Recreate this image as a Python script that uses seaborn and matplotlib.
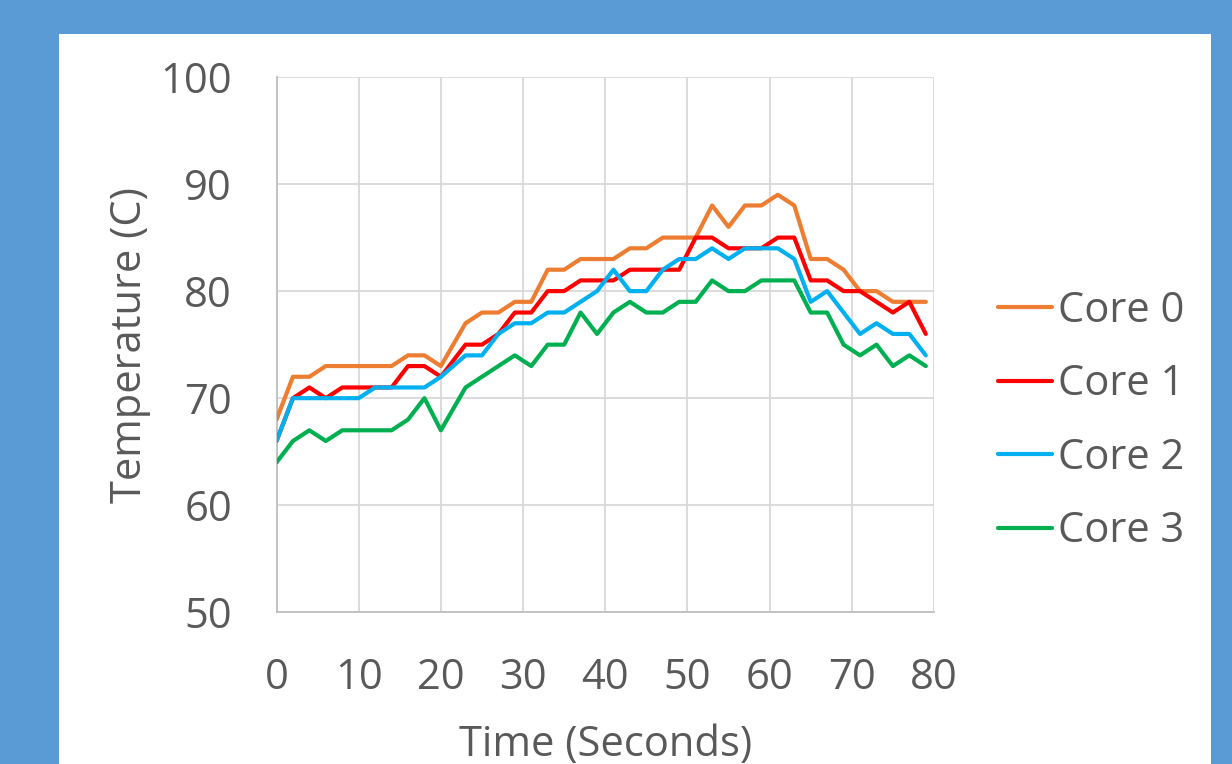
import matplotlib
matplotlib.use("Agg")
import matplotlib.pyplot as plt
import matplotlib.patches as mpatches
import pandas as pd
import seaborn as sns

# Sample times (seconds)
times = [0, 2, 4, 6, 8, 10, 12, 14, 16, 18, 20,
         23, 25, 27, 29, 31, 33, 35, 37, 39, 41, 43, 45, 47, 49,
         51, 53, 55, 57, 59, 61, 63, 65, 67, 69, 71, 73, 75, 77, 79]

core0 = [68, 72, 72, 73, 73, 73, 73, 73, 74, 74, 73,
         77, 78, 78, 79, 79, 82, 82, 83, 83, 83, 84, 84, 85, 85,
         85, 88, 86, 88, 88, 89, 88, 83, 83, 82, 80, 80, 79, 79, 79]
core1 = [66, 70, 71, 70, 71, 71, 71, 71, 73, 73, 72,
         75, 75, 76, 78, 78, 80, 80, 81, 81, 81, 82, 82, 82, 82,
         85, 85, 84, 84, 84, 85, 85, 81, 81, 80, 80, 79, 78, 79, 76]
core2 = [66, 70, 70, 70, 70, 70, 71, 71, 71, 71, 72,
         74, 74, 76, 77, 77, 78, 78, 79, 80, 82, 80, 80, 82, 83,
         83, 84, 83, 84, 84, 84, 83, 79, 80, 78, 76, 77, 76, 76, 74]
core3 = [64, 66, 67, 66, 67, 67, 67, 67, 68, 70, 67,
         71, 72, 73, 74, 73, 75, 75, 78, 76, 78, 79, 78, 78, 79,
         79, 81, 80, 80, 81, 81, 81, 78, 78, 75, 74, 75, 73, 74, 73]

core_names = ["Core 0", "Core 1", "Core 2", "Core 3"]
core_colors = ["#ED7D31", "#FF0000", "#00B0F0", "#00B050"]

x_ticks = [0, 10, 20, 30, 40, 50, 60, 70, 80]
y_ticks = [50, 60, 70, 80, 90, 100]

frames = []
for name, vals in zip(core_names, [core0, core1, core2, core3]):
    frames.append(pd.DataFrame({"Time": times, "Temp": vals, "Core": name}))
df = pd.concat(frames, ignore_index=True)

sns.set_style("white")
plt.rcParams["font.family"] = ["Open Sans", "DejaVu Sans"]

W, H = 1232, 764
fig = plt.figure(figsize=(W / 100, H / 100), dpi=100)
fig.patch.set_facecolor("#5B9BD5")

# white chart area behind the axes
panel = mpatches.Rectangle((59 / W, 0), (1211 - 59) / W, (H - 34) / H,
                           transform=fig.transFigure, facecolor="white",
                           edgecolor="none", zorder=-10)
fig.add_artist(panel)

left, right, top, bottom = 276.5, 934, 77, 612.3
ax = fig.add_axes([left / W, (H - bottom) / H, (right - left) / W, (bottom - top) / H])
ax.set_zorder(1)
ax.set_facecolor("white")

sns.lineplot(data=df, x="Time", y="Temp", hue="Core", palette=core_colors,
             linewidth=3.0, ax=ax, legend=True, zorder=3)

text_color = "#595959"
ax.set_xlim(0, 80)
ax.set_ylim(50, 100)
ax.set_xticks(x_ticks)
ax.set_yticks(y_ticks)
ax.grid(True, color="#D9D9D9", linewidth=1.3, zorder=0)
ax.tick_params(axis="both", length=0, labelsize=30, labelcolor=text_color)
ax.tick_params(axis="y", pad=32)
ax.tick_params(axis="x", pad=32)
for side in ["top", "right"]:
    ax.spines[side].set_visible(False)
for side in ["left", "bottom"]:
    ax.spines[side].set_color("#BFBFBF")
    ax.spines[side].set_linewidth(1.3)

ax.set_xlabel("Time (Seconds)", fontsize=30, color=text_color, labelpad=18)
ax.set_ylabel("Temperature (C)", fontsize=30, color=text_color, labelpad=7)

leg = ax.legend(loc="center left", bbox_to_anchor=(998 / W, (H - 421) / H),
                bbox_transform=fig.transFigure, frameon=False, fontsize=30,
                handlelength=1.3, handletextpad=0.15, labelspacing=0.76,
                borderaxespad=0, borderpad=0)
for t in leg.get_texts():
    t.set_color(text_color)
for line in leg.get_lines():
    line.set_linewidth(3.0)

fig.savefig("out.png", dpi=100, facecolor=fig.get_facecolor())
